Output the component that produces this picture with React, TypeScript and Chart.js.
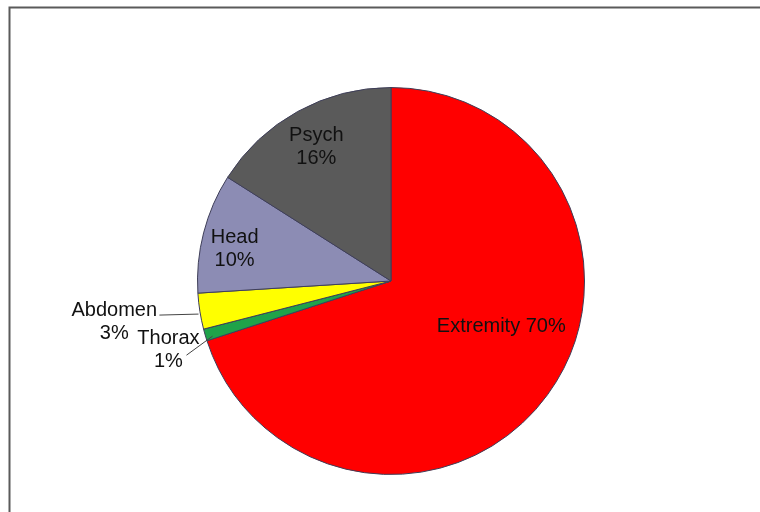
import React, { useEffect, useRef } from "react";
import { Chart, registerables } from "chart.js";

Chart.register(...registerables);

const categories = ["Extremity", "Thorax", "Abdomen", "Head", "Psych"];
const values = [70, 1, 3, 10, 16];
const colors = ["#FF0000", "#1FA34A", "#FFFF00", "#8C8CB4", "#5A5A5A"];

// label text lines per slice
const labelLines = [["Extremity 70%"], ["Thorax", "1%"], ["Abdomen", "3%"], ["Head", "10%"], ["Psych", "16%"]];
// label placement relative to pie centre (units of radius at 193px): first-line baseline centre
const labelPos = [
  [110 / 193, 51 / 193],
  [-222 / 193, 63 / 193],
  [-276 / 193, 35 / 193],
  [-156 / 193, -38 / 193],
  [-74.5 / 193, -140 / 193],
];
// leader lines for outside labels: [from (in label space), to (pie)]
const leaders: Record<number, number[]> = {
  1: [-204 / 193, 74 / 193, -178 / 193, 55 / 193],
  2: [-231 / 193, 34 / 193, -192 / 193, 33 / 193],
};

const labelPlugin = {
  id: "labelPlugin",
  beforeDraw(chart: any) {
    const ctx = chart.ctx;
    ctx.save();
    ctx.strokeStyle = "#5a5a5a";
    ctx.lineWidth = 2;
    ctx.beginPath();
    ctx.moveTo(9.5, 800);
    ctx.lineTo(9.5, 7.5);
    ctx.lineTo(800, 7.5);
    ctx.stroke();
    ctx.restore();
  },
  afterDraw(chart: any) {
    const ctx = chart.ctx;
    const meta = chart.getDatasetMeta(0);
    const arc0 = meta.data[0];
    const cx = arc0.x;
    const cy = arc0.y;
    const r = arc0.outerRadius;
    ctx.save();
    ctx.font = "20px 'Liberation Sans', Arial, sans-serif";
    ctx.fillStyle = "#111";
    ctx.textAlign = "center";
    ctx.textBaseline = "alphabetic";
    labelLines.forEach((lines, i) => {
      const [fx, fy] = labelPos[i];
      const x = cx + fx * r;
      const y = cy + fy * r;
      lines.forEach((t, j) => ctx.fillText(t, x, y + j * 23));
    });
    ctx.strokeStyle = "#444";
    ctx.lineWidth = 1;
    Object.keys(leaders).forEach((k) => {
      const [x1, y1, x2, y2] = leaders[+k];
      ctx.beginPath();
      ctx.moveTo(cx + x1 * r, cy + y1 * r);
      ctx.lineTo(cx + x2 * r, cy + y2 * r);
      ctx.stroke();
    });
    ctx.restore();
  },
};

export default function App() {
  const ref = useRef<HTMLCanvasElement>(null);
  useEffect(() => {
    if (!ref.current) return;
    const chart = new Chart(ref.current, {
      type: "pie",
      data: {
        labels: categories,
        datasets: [
          {
            data: values,
            backgroundColor: colors,
            borderColor: "#3e3e58",
            borderWidth: 1,
          },
        ],
      },
      options: {
        animation: false,
        responsive: false,
        layout: { padding: { left: 197, right: 175, top: 87, bottom: 37 } },
        plugins: { legend: { display: false }, tooltip: { enabled: false } },
      },
      plugins: [labelPlugin],
    });
    return () => chart.destroy();
  }, []);
  return (
    <div style={{ position: "absolute", left: 0, top: 0, width: 760, height: 512, background: "#fff" }}>
      <canvas ref={ref} width={760} height={512} />
    </div>
  );
}
